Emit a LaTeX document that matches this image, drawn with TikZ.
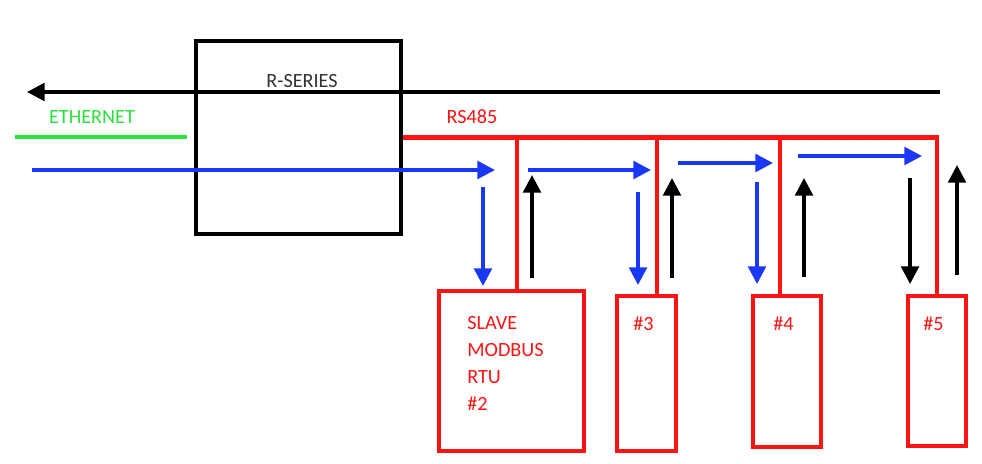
\documentclass[tikz,border=0pt]{standalone}
\usepackage{fontspec}
\setmainfont{Carlito}
\usepackage{tikz}
\usetikzlibrary{arrows.meta, positioning, calc}
\usepackage{xcolor}
\definecolor{busred}{RGB}{250,20,20}
\definecolor{reqblue}{RGB}{25,55,245}
\definecolor{ethgreen}{RGB}{45,225,60}
\tikzstyle{master} = [rectangle, draw=black, line width=2.1pt, minimum width=4.1cm, minimum height=3.86cm, inner sep=0pt]
\tikzstyle{slave}  = [rectangle, draw=busred, line width=2.4pt, inner sep=0pt]
\tikzstyle{tag}    = [font=\fontsize{11.5}{15.3}\selectfont, text=busred, align=left, anchor=north west, inner sep=0pt]
\tikzstyle{bus}    = [busred, line width=2.6pt]
\tikzstyle{req}    = [reqblue, line width=2pt, -{Triangle[length=10pt, width=10pt]}]
\tikzstyle{resp}   = [black, line width=2pt, -{Triangle[length=10pt, width=10pt]}]

\begin{document}
\begin{tikzpicture}[x=0.02cm, y=-0.02cm]
  \useasboundingbox (0,0) rectangle (982,463);

  % R-Series gateway
  \node[master] (rseries) at (298.5,137.5) {};
  \node[font=\fontsize{11.5}{13}\selectfont, text=black!80] (rslabel) at (302,81) {R-SERIES};

  % Modbus slaves
  \node[slave, minimum width=2.9cm, minimum height=3.2cm] (slave2) at (511.5,371) {};
  \node[slave, minimum width=1.17cm, minimum height=3.1cm] (slave3) at (646.5,373.5) {};
  \node[slave, minimum width=1.35cm, minimum height=3.02cm] (slave4) at (787,371.5) {};
  \node[slave, minimum width=1.15cm, minimum height=3.0cm] (slave5) at (937,371) {};
  \node[tag] (tag2) at (467,316) {SLAVE\\MODBUS\\RTU\\\#2};
  \node[tag] (tag3) at (633,316) {\#3};
  \node[tag] (tag4) at (773,316) {\#4};
  \node[tag] (tag5) at (923,316) {\#5};

  % Ethernet side
  \coordinate (ethin) at (15,137);
  \coordinate (ethend) at (187,137);
  \node[font=\fontsize{11.5}{13}\selectfont, text=ethgreen] (ethlabel) at (92,117) {ETHERNET};
  \coordinate (retstart) at (940,92);
  \coordinate (retend) at (27,92);
  \coordinate (reqstart) at (32,170);
  \coordinate (reqend) at (495,170);

  % RS485 bus
  \node[font=\fontsize{11.5}{13}\selectfont, text=busred] (buslabel) at (472,117) {RS485};
  \coordinate (tap2) at (517,137);
  \coordinate (tap3) at (657,137);
  \coordinate (tap4) at (780,137);
  \draw[bus] (rseries.east) -| (slave5.north);
  \draw[bus] (tap2) -- (tap2 |- slave2.north);
  \draw[bus] (tap3) -- (tap3 |- slave3.north);
  \draw[bus] (tap4) -- (tap4 |- slave4.north);

  % Lines and arrows
  \draw[ethgreen, line width=2.2pt] (ethin) -- (ethend);
  \draw[resp] (retstart) -- (retend);
  \draw[req] (reqstart) -- (reqend);
  \draw[req] (483,187) -- (483,286);
  \draw[req] (528,170) -- (651,170);
  \draw[req] (638,192) -- (638,285);
  \draw[req] (678,163) -- (773,163);
  \draw[req] (757,182) -- (757,284);
  \draw[req] (798,156) -- (922,156);
  \draw[resp] (532,278) -- (532,175);
  \draw[resp] (672,278) -- (672,178);
  \draw[resp] (804,277) -- (804,178);
  \draw[resp] (910,178) -- (910,284);
  \draw[resp] (957,275) -- (957,165);

\end{tikzpicture}
\end{document}
